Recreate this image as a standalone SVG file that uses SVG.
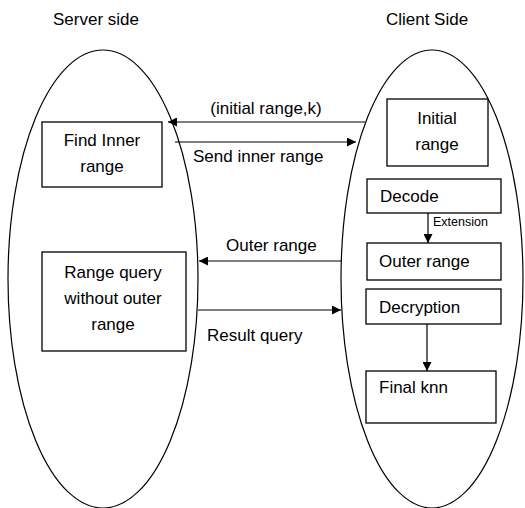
<svg xmlns="http://www.w3.org/2000/svg" width="525" height="508" viewBox="0 0 525 508">
<style>
text{font-family:"Liberation Sans","Open Sans",sans-serif;font-size:17px;fill:#000}
.c{text-anchor:middle}
.s{font-size:12.5px}
.el{fill:none;stroke:#000;stroke-width:1.2}
.bx{fill:#fff;stroke:#000;stroke-width:1.3}
.ln{stroke:#000;stroke-width:1.2;fill:none}
</style>
<defs>
<marker id="ah" viewBox="0 0 10 10" refX="10" refY="5" markerWidth="9" markerHeight="9" markerUnits="userSpaceOnUse" orient="auto">
<path d="M0,0 L10,5 L0,10 Z" fill="#000"/>
</marker>
</defs>
<rect width="525" height="508" fill="#fff"/>
<text x="96" y="25" class="c">Server side</text>
<text x="427" y="25" class="c">Client Side</text>
<g id="server"><ellipse class="el" cx="103" cy="279" rx="95" ry="229"/></g>
<g id="client"><ellipse class="el" cx="432" cy="279" rx="91" ry="229"/></g>
<g id="findInner"><rect class="bx" x="42" y="122" width="120" height="65"/><text x="102" y="146" class="c">Find Inner</text><text x="102" y="172" class="c">range</text></g>
<g id="rangeQuery"><rect class="bx" x="42" y="252" width="144" height="99"/><text x="113" y="278" class="c">Range query</text><text x="113" y="304" class="c">without outer</text><text x="113" y="330" class="c">range</text></g>
<g id="initialRange"><rect class="bx" x="387" y="99" width="101" height="67"/><text x="437" y="124" class="c">Initial</text><text x="437" y="150" class="c">range</text></g>
<g id="decode"><rect class="bx" x="367" y="179" width="134" height="34"/><text x="380" y="202">Decode</text></g>
<g id="outerRange"><rect class="bx" x="367" y="243" width="134" height="37"/><text x="379" y="267">Outer range</text></g>
<g id="decryption"><rect class="bx" x="366" y="289" width="135" height="35"/><text x="379" y="313">Decryption</text></g>
<g id="finalKnn"><rect class="bx" x="366" y="371" width="130" height="52"/><text x="379" y="393">Final knn</text></g>
<g id="connectors">
<line class="ln" x1="365" y1="122" x2="168" y2="122" marker-end="url(#ah)"/>
<text x="266" y="114" class="c">(initial range,k)</text>
<line class="ln" x1="175" y1="142" x2="356" y2="142" marker-end="url(#ah)"/>
<text x="193" y="162">Send inner range</text>
<line class="ln" x1="428" y1="213" x2="428" y2="243" marker-end="url(#ah)"/>
<text x="433" y="226" class="s">Extension</text>
<line class="ln" x1="341" y1="261" x2="199" y2="261" marker-end="url(#ah)"/>
<text x="226" y="251">Outer range</text>
<line class="ln" x1="198" y1="310" x2="341" y2="310" marker-end="url(#ah)"/>
<text x="207" y="341">Result query</text>
<line class="ln" x1="427" y1="324" x2="427" y2="371" marker-end="url(#ah)"/>
</g>
</svg>
